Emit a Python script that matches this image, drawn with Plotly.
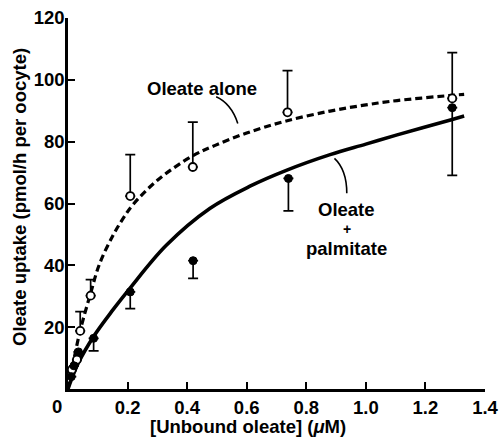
import plotly.graph_objects as go

# ---- data ----
alone_x = [0.013, 0.030, 0.041, 0.076, 0.209, 0.419, 0.737, 1.29]
alone_y = [6.2, 9.5, 18.8, 30.2, 62.4, 71.8, 89.5, 94.0]
alone_err_up = [0, 0, 6.2, 5.2, 13.4, 14.5, 13.5, 14.8]

palm_x = [0.011, 0.020, 0.035, 0.086, 0.209, 0.420, 0.740, 1.29]
palm_y = [4.0, 7.5, 12.0, 16.4, 31.4, 41.5, 68.1, 91.0]
palm_err_down = [0, 0, 0, 4.1, 5.4, 5.7, 10.5, 21.9]

alone_curve_x = [0, 0.013, 0.04, 0.076, 0.106, 0.15, 0.184, 0.217, 0.3, 0.42,
                 0.494, 0.6, 0.729, 0.88, 1.0, 1.105, 1.29, 1.33]
alone_curve_y = [0, 6.3, 18.5, 31, 40.5, 49.5, 55, 59.5, 67.5, 75.5,
                 78.8, 82.8, 86.6, 89.9, 91.9, 93.3, 95.0, 95.3]

palm_curve_x = [0, 0.011, 0.035, 0.086, 0.15, 0.207, 0.33, 0.476, 0.611,
                0.735, 0.88, 1.0, 1.105, 1.29, 1.33]
palm_curve_y = [0, 3, 8.5, 17, 25.5, 32.5, 46.5, 58.4, 65.6,
                70.8, 75.8, 79.2, 82.2, 87.2, 88.3]

x_ticks = [0.2, 0.4, 0.6, 0.8, 1.0, 1.2, 1.4]
x_tick_text = ["0.2", "0.4", "0.6", "0.8", "1.0", "1.2", "1.4"]
y_ticks = [20, 40, 60, 80, 100, 120]

TICKFONT = dict(family="Liberation Sans Narrow, Liberation Sans, Arial", size=18.5,
                color="black", weight="bold")
TEXTFONT = dict(family="Liberation Sans, Arial", size=18.5, color="black", weight="bold")
PLUSFONT = dict(family="Liberation Sans, Arial", size=14, color="black", weight="bold")

W, H = 501, 446
pl, pr, pt, pb = 68, 16, 18, 57

fig = go.Figure()

fig.add_trace(go.Scatter(x=alone_curve_x, y=alone_curve_y, mode="lines",
                         line=dict(color="black", width=3.2, dash="7px,4px", shape="spline"),
                         hoverinfo="skip", showlegend=False))
fig.add_trace(go.Scatter(x=palm_curve_x, y=palm_curve_y, mode="lines",
                         line=dict(color="black", width=3.6, shape="spline"),
                         hoverinfo="skip", showlegend=False))

fig.add_trace(go.Scatter(
    x=alone_x, y=alone_y, mode="markers",
    marker=dict(symbol="circle", size=8, color="white", line=dict(color="black", width=1.8)),
    error_y=dict(type="data", symmetric=False, array=alone_err_up,
                 arrayminus=[0] * len(alone_err_up), color="black", thickness=1.7, width=5),
    showlegend=False))
fig.add_trace(go.Scatter(
    x=palm_x, y=palm_y, mode="markers",
    marker=dict(symbol="circle", size=8, color="black", line=dict(color="black", width=1)),
    error_y=dict(type="data", symmetric=False, array=[0] * len(palm_err_down),
                 arrayminus=palm_err_down, color="black", thickness=1.7, width=5),
    showlegend=False))

# pointer lines
fig.add_shape(type="path", path="M 0.4975,94.5 Q 0.548,92.3 0.570,85.9",
              line=dict(color="black", width=1.6), xref="x", yref="y")
fig.add_shape(type="path", path="M 0.8946,74.6 Q 0.936,70.9 0.936,63.3",
              line=dict(color="black", width=1.6), xref="x", yref="y")

ann = [
    dict(x=0.4515, y=97.3, text="Oleate alone", font=TEXTFONT),
    dict(x=0.936, y=57.9, text="Oleate", font=TEXTFONT),
    dict(x=0.936, y=51.6, text="+", font=PLUSFONT),
    dict(x=0.936, y=45.6, text="palmitate", font=TEXTFONT),
]
for a in ann:
    fig.add_annotation(x=a["x"], y=a["y"], text=a["text"], showarrow=False,
                       font=a["font"], xanchor="center", yanchor="middle")


def px_to_paper(px, py):
    return (px - pl) / (W - pl - pr), 1 - (py - pt) / (H - pt - pb)


# origin label
ox, oy = px_to_paper(57, 406)
fig.add_annotation(x=ox, y=oy, xref="paper", yref="paper", text="0", showarrow=False,
                   font=TICKFONT, xanchor="center", yanchor="middle")

# axis titles
tx, ty = px_to_paper(248, 426)
fig.add_annotation(x=tx, y=ty, xref="paper", yref="paper",
                   text="[Unbound oleate] (<i>μ</i>M)", showarrow=False,
                   font=TEXTFONT, xanchor="center", yanchor="middle")
yx, yy = px_to_paper(19, 197)
fig.add_annotation(x=yx, y=yy, xref="paper", yref="paper",
                   text="Oleate uptake (pmol/h per oocyte)", showarrow=False,
                   textangle=-90, font=TEXTFONT, xanchor="center", yanchor="middle")

fig.update_layout(
    width=W, height=H,
    margin=dict(l=pl, r=pr, t=pt, b=pb, autoexpand=False),
    paper_bgcolor="white", plot_bgcolor="white",
    xaxis=dict(range=[0, 1.4], tickvals=x_ticks, ticktext=x_tick_text,
               ticks="inside", ticklen=7, tickwidth=2, tickcolor="black",
               showline=True, linewidth=2.5, linecolor="black", showgrid=False,
               zeroline=False, tickfont=TICKFONT, fixedrange=True),
    yaxis=dict(range=[0, 120], tickvals=y_ticks,
               ticks="inside", ticklen=7, tickwidth=2, tickcolor="black",
               ticklabelstandoff=-3,
               showline=True, linewidth=2.5, linecolor="black", showgrid=False,
               zeroline=False, tickfont=TICKFONT, fixedrange=True),
)

fig.write_html("out.html", config={"displayModeBar": False},
               post_script="document.body.style.margin='0';document.body.style.overflow='hidden';")
